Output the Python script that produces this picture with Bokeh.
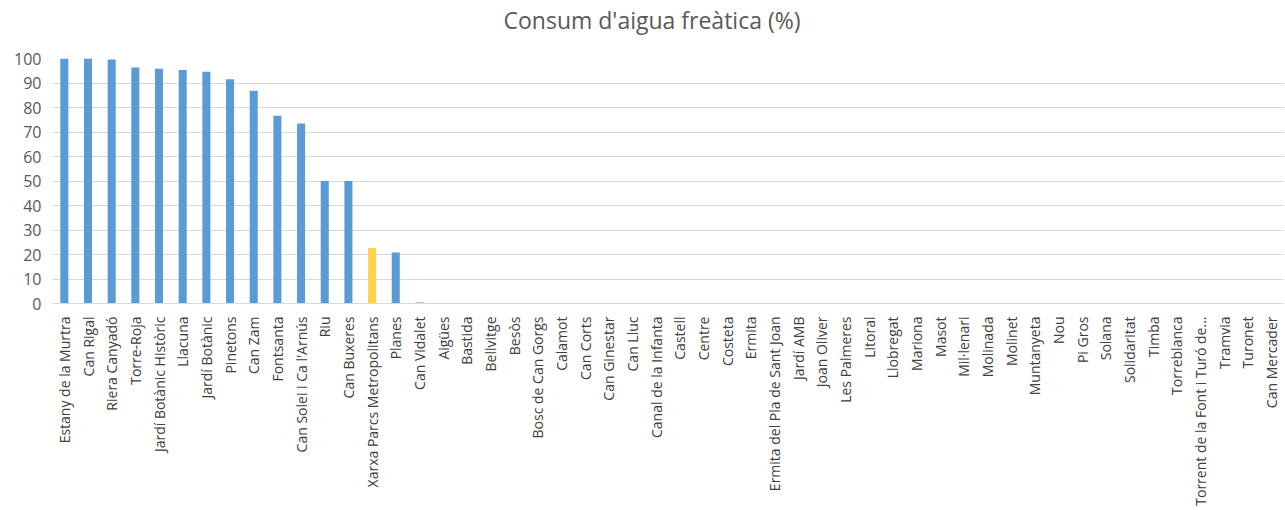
import math
from bokeh.plotting import figure
from bokeh.models import ColumnDataSource, FactorRange, Range1d, Title
from bokeh.embed import file_html
from bokeh.resources import INLINE

title = "Consum d'aigua freàtica (%)"

categories = [
    "Estany de la Murtra", "Can Rigal", "Riera Canyadó", "Torre-Roja",
    "Jardí Botànic Històric", "Llacuna", "Jardí Botànic", "Pinetons", "Can Zam",
    "Fontsanta", "Can Solei i Ca l'Arnús", "Riu", "Can Buxeres",
    "Xarxa Parcs Metropolitans", "Planes", "Can Vidalet", "Aigües", "Bastida",
    "Bellvitge", "Besòs", "Bosc de Can Gorgs", "Calamot", "Can Corts",
    "Can Ginestar", "Can Lluc", "Canal de la Infanta", "Castell", "Centre",
    "Costeta", "Ermita", "Ermita del Pla de Sant Joan", "Jardí AMB",
    "Joan Oliver", "Les Palmeres", "Litoral", "Llobregat", "Mariona", "Masot",
    "Mil·lenari", "Molinada", "Molinet", "Muntanyeta", "Nou", "Pi Gros",
    "Solana", "Solidaritat", "Timba", "Torreblanca",
    "Torrent de la Font i Turó de...", "Tramvia", "Turonet", "Can Mercader",
]

values = [
    100, 100, 99.6, 96.3, 95.8, 95.3, 94.6, 91.5, 86.8,
    76.6, 73.5, 50, 50,
    22.7, 20.8, 0.4, 0, 0,
    0, 0, 0, 0, 0,
    0, 0, 0, 0, 0,
    0, 0, 0, 0,
    0, 0, 0, 0, 0, 0,
    0, 0, 0, 0, 0, 0,
    0, 0, 0, 0,
    0, 0, 0, 0,
]

highlight = "Xarxa Parcs Metropolitans"
y_ticks = [0, 10, 20, 30, 40, 50, 60, 70, 80, 90, 100]

BLUE = "#5b9bd5"
GOLD = "#ffd34f"
colors = [GOLD if c == highlight else BLUE for c in categories]

source = ColumnDataSource(dict(cat=categories, val=values, color=colors))

p = figure(
    width=1284, height=508,
    x_range=FactorRange(factors=categories, range_padding=0),
    y_range=Range1d(0, 100),
    output_backend="svg", toolbar_location=None,
    min_border_left=52, min_border_right=1, min_border_bottom=203, min_border_top=10,
)

p.vbar(x="cat", top="val", width=0.34, color="color", line_color=None, source=source)

p.title.text = title
p.title.align = "left"
p.title.offset = 451
p.title.standoff = 2
p.title.text_font = "Open Sans"
p.title.text_font_size = "23px"
p.title.text_font_style = "normal"
p.title.text_color = "#595959"

# spacer between the title and the plot frame
p.add_layout(Title(text=" ", text_font="Open Sans", text_font_size="15px", standoff=0), "above")

p.outline_line_color = None
p.background_fill_color = "white"
p.border_fill_color = "white"

p.xgrid.grid_line_color = None
p.ygrid.grid_line_color = "#d9d9d9"
p.ygrid.grid_line_width = 1

p.yaxis.ticker = y_ticks
p.yaxis.axis_line_color = None
p.yaxis.major_tick_line_color = None
p.yaxis.minor_tick_line_color = None
p.yaxis.major_label_text_font = "Open Sans"
p.yaxis.major_label_text_font_size = "16px"
p.yaxis.major_label_text_color = "#595959"
p.yaxis.major_label_standoff = 5

p.xaxis.axis_line_color = "#d9d9d9"
p.xaxis.major_tick_line_color = None
p.xaxis.minor_tick_line_color = None
p.xaxis.major_label_orientation = math.pi / 2
p.xaxis.major_label_text_font = "Open Sans"
p.xaxis.major_label_text_font_size = "14px"
p.xaxis.major_label_text_color = "#404040"
p.xaxis.major_label_standoff = 7

open("out.html", "w").write(file_html(p, INLINE))
